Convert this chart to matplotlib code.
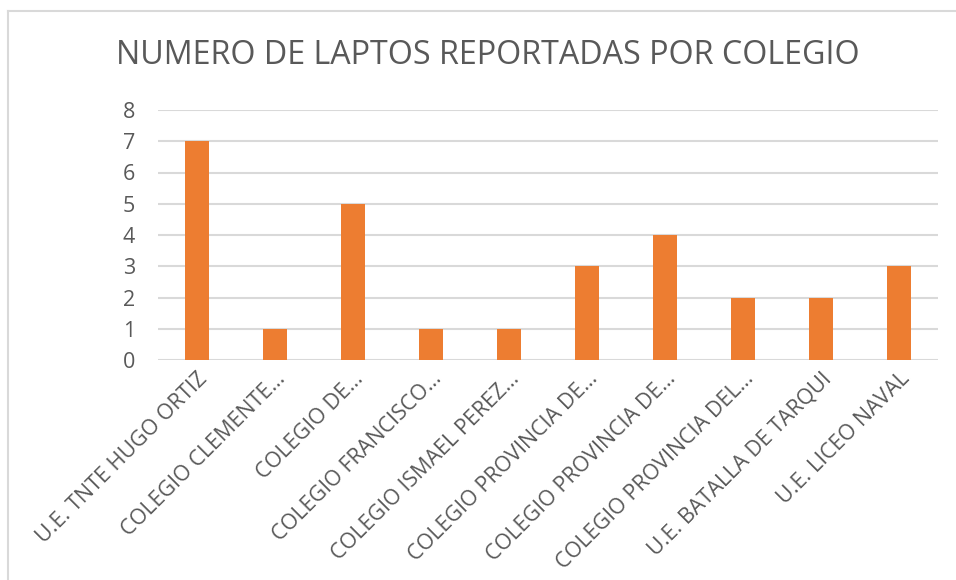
import matplotlib
matplotlib.use("Agg")
import matplotlib.pyplot as plt
from matplotlib.lines import Line2D

categories = ["U.E. TNTE HUGO ORTIZ", "COLEGIO CLEMENTE…", "COLEGIO DE…",
              "COLEGIO FRANCISCO…", "COLEGIO ISMAEL PEREZ…", "COLEGIO PROVINCIA DE…",
              "COLEGIO PROVINCIA DE…", "COLEGIO PROVINCIA DEL…", "U.E. BATALLA DE TARQUI",
              "U.E. LICEO NAVAL"]
values = [7, 1, 5, 1, 1, 3, 4, 2, 2, 3]
yticks = [0, 1, 2, 3, 4, 5, 6, 7, 8]
title = "NUMERO DE LAPTOS REPORTADAS POR COLEGIO"

plt.rcParams['font.family'] = ['Open Sans', 'DejaVu Sans']
txt = '#595959'
W, H = 956, 580
fig = plt.figure(figsize=(W/100, H/100), dpi=100)
ax = fig.add_axes([158/W, 1-360/H, 780/W, 250/H])

x = list(range(len(categories)))
ax.bar(x, values, width=0.31, color='#ED7D31', zorder=3)
ax.set_xlim(-0.5, len(categories)-0.5)
ax.set_ylim(0, 8)
ax.set_yticks(yticks)
ax.set_yticklabels([str(t) for t in yticks], fontsize=15.5, color=txt)
ax.yaxis.grid(True, color='#d9d9d9', linewidth=1.5, zorder=0)
ax.tick_params(axis='y', length=0, pad=16.5)
ax.tick_params(axis='x', length=0, pad=6)
for s in ax.spines.values():
    s.set_visible(False)
ax.set_xticks(x)
ax.set_xticklabels(categories, rotation=45, ha='right', va='top',
                   rotation_mode='anchor', fontsize=15.5, color=txt)

fig.text(488/W, 1-55/H, title, ha='center', va='center', fontsize=23.2, color=txt)

fig.add_artist(Line2D([8/W, 1], [1-11/H, 1-11/H], color='#d9d9d9', linewidth=1.5, transform=fig.transFigure))
fig.add_artist(Line2D([8/W, 8/W], [0, 1-11/H], color='#d9d9d9', linewidth=1.5, transform=fig.transFigure))

fig.savefig('out.png', dpi=100)
